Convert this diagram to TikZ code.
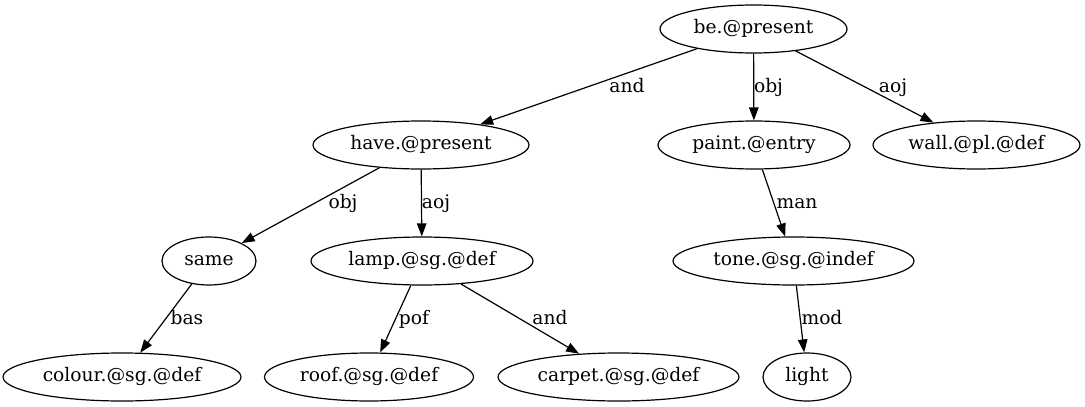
\documentclass[tikz,border=0pt]{standalone}
\usepackage{fontspec}
\setmainfont{DejaVu Serif}
\usetikzlibrary{shapes.geometric,arrows.meta}
\begin{document}
\begin{tikzpicture}[x=1pt,y=-1pt,
  every node/.style={font=\fontsize{18.67}{22}\selectfont},
  gnode/.style={ellipse,draw,line width=1.2pt,inner sep=0pt,minimum height=48pt,
    text height=13.4pt,text depth=4.8pt},
  edge/.style={draw,line width=1.2pt,-{Triangle[length=13pt,width=9.5pt]}},
  elabel/.style={anchor=base,inner sep=0pt}]
\useasboundingbox (0,0) rectangle (1085,407);
\node[gnode,minimum width=187pt] (be) at (753.5,29) {be.@present};
\node[gnode,minimum width=216pt] (have) at (421,145) {have.@present};
\node[gnode,minimum width=192pt] (paint) at (754,145) {paint.@entry};
\node[gnode,minimum width=207pt] (wall) at (976.5,145) {wall.@pl.@def};
\node[gnode,minimum width=94pt] (same) at (209,261) {same};
\node[gnode,minimum width=222pt] (lamp) at (422,261) {lamp.@sg.@def};
\node[gnode,minimum width=241pt] (tone) at (793.5,261) {tone.@sg.@indef};
\node[gnode,minimum width=238pt] (colour) at (122,377) {colour.@sg.@def};
\node[gnode,minimum width=209pt] (roof) at (369,377) {roof.@sg.@def};
\node[gnode,minimum width=241pt] (carpet) at (618.5,377) {carpet.@sg.@def};
\node[gnode,minimum width=88pt] (light) at (807,377) {light};
\draw[edge] (be) -- (have);
\draw[edge] (be) -- (paint);
\draw[edge] (be) -- (wall);
\draw[edge] (have) -- (same);
\draw[edge] (have) -- (lamp);
\draw[edge] (paint) -- (tone);
\draw[edge] (same) -- (colour);
\draw[edge] (lamp) -- (roof);
\draw[edge] (lamp) -- (carpet);
\draw[edge] (tone) -- (light);
\node[elabel] (l1) at (627,92.5) {and};
\node[elabel] (l2) at (768.5,92.5) {obj};
\node[elabel] (l3) at (893,92.5) {aoj};
\node[elabel] (l4) at (343,208.5) {obj};
\node[elabel] (l5) at (436,208.5) {aoj};
\node[elabel] (l6) at (797,208.5) {man};
\node[elabel] (l7) at (187,324) {bas};
\node[elabel] (l8) at (414,324) {pof};
\node[elabel] (l9) at (550,324) {and};
\node[elabel] (l10) at (822,324) {mod};
\end{tikzpicture}
\end{document}
